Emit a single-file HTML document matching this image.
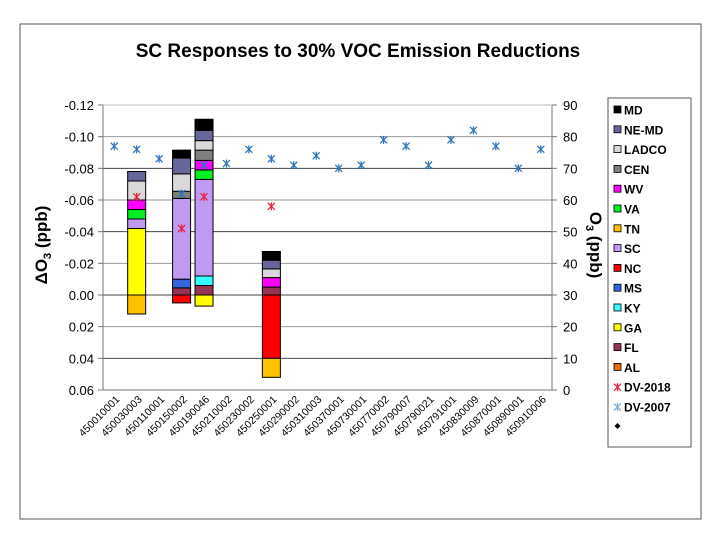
<!DOCTYPE html>
<html><head><meta charset="utf-8"><style>
body{margin:0;background:#fff;font-family:"Liberation Sans",sans-serif}
svg text{font-family:"Liberation Sans",sans-serif}
</style></head><body>
<svg id="c" width="720" height="540" xmlns="http://www.w3.org/2000/svg">
<rect x="20" y="24" width="681" height="495" fill="#fff" stroke="#555" stroke-width="1"/>
<text x="358" y="57" text-anchor="middle" font-size="19" font-weight="bold">SC Responses to 30% VOC Emission Reductions</text>
<g id="grid"></g><g id="bars"></g><g id="axes"></g><g id="pts"></g><g id="legend"></g>
<text transform="translate(47,245) rotate(-90)" text-anchor="middle" font-size="17" font-weight="bold">ΔO<tspan font-size="11" dy="4">3</tspan><tspan dy="-4"> (ppb)</tspan></text>
<text transform="translate(590,245) rotate(90)" text-anchor="middle" font-size="17" font-weight="bold">O<tspan font-size="11" dy="4">3</tspan><tspan dy="-4"> (ppb)</tspan></text>
</svg>
<script>
const categories=["450010001","450030003","450110001","450150002","450190046","450210002","450230002","450250001","450290002","450310003","450370001","450730001","450770002","450790007","450790021","450791001","450830009","450870001","450890001","450910006"];
const seriesNames=["AL","FL","GA","KY","MS","NC","SC","TN","VA","WV","CEN","LADCO","NE-MD","MD"];
const seriesColors=["#E46C0A","#953553","#FFFF00","#33FFFF","#3366DD","#FF0000","#C099F0","#FFC000","#00EE22","#FF00FF","#7F7F7F","#D9D9D9","#66669A","#000000"];
const AL=[0,0,0,0,0,0,0,0,0,0,0,0,0,0,0,0,0,0,0,0];
const FL=[0,0,0,-0.0045,-0.006,0,0,-0.005,0,0,0,0,0,0,0,0,0,0,0,0];
const GA=[0,-0.042,0,0,0.007,0,0,0,0,0,0,0,0,0,0,0,0,0,0,0];
const KY=[0,0,0,0,-0.006,0,0,0,0,0,0,0,0,0,0,0,0,0,0,0];
const MS=[0,0,0,-0.0055,0,0,0,0,0,0,0,0,0,0,0,0,0,0,0,0];
const NC=[0,0,0,0.005,0,0,0,0.040,0,0,0,0,0,0,0,0,0,0,0,0];
const SC=[0,-0.006,0,-0.051,-0.061,0,0,0,0,0,0,0,0,0,0,0,0,0,0,0];
const TN=[0,0.012,0,0,0,0,0,0.012,0,0,0,0,0,0,0,0,0,0,0,0];
const VA=[0,-0.006,0,0,-0.006,0,0,0,0,0,0,0,0,0,0,0,0,0,0,0];
const WV=[0,-0.006,0,0,-0.006,0,0,-0.006,0,0,0,0,0,0,0,0,0,0,0,0];
const CEN=[0,0,0,-0.0045,-0.0065,0,0,0,0,0,0,0,0,0,0,0,0,0,0,0];
const LADCO=[0,-0.012,0,-0.011,-0.006,0,0,-0.0055,0,0,0,0,0,0,0,0,0,0,0,0];
const NEMD=[0,-0.006,0,-0.010,-0.0065,0,0,-0.0055,0,0,0,0,0,0,0,0,0,0,0,0];
const MD=[0,0,0,-0.005,-0.007,0,0,-0.0055,0,0,0,0,0,0,0,0,0,0,0,0];
const DV2018=[null,61,null,51,61,null,null,58,null,null,null,null,null,null,null,null,null,null,null,null];
const DV2007=[77,76,73,62,71,71.5,76,73,71,74,70,71,79,77,71,79,82,77,70,76];
const leftTicks=["-0.12","-0.10","-0.08","-0.06","-0.04","-0.02","0.00","0.02","0.04","0.06"];
const rightTicks=["90","80","70","60","50","40","30","20","10","0"];
const series=[AL,FL,GA,KY,MS,NC,SC,TN,VA,WV,CEN,LADCO,NEMD,MD];
const X0=103,X1=552,T=105,B=390;
const yL=v=>T+(v-(-0.12))/(0.18)*(B-T);
const yR=v=>B-v/90*(B-T);
const bw=(X1-X0)/categories.length;
const xC=i=>X0+bw*(i+0.5);
const NS="http://www.w3.org/2000/svg";
function mk(p,tag,at,txt){const e=document.createElementNS(NS,tag);for(const k in at)e.setAttribute(k,at[k]);if(txt!=null)e.textContent=txt;document.getElementById(p).appendChild(e);return e;}
leftTicks.forEach((t,i)=>{const y=yL(parseFloat(t));
 if(i>0&&i<leftTicks.length-1){const g=mk('grid','line',{x1:X0,x2:X1,y1:y,y2:y,stroke:i%2?'#999':'#444','stroke-width':1});
 
 }
 const l=mk('axes','line',{x1:X0-5,x2:X0,y1:y,y2:y,stroke:'#777'});
 
 
 const tx=mk('axes','text',{x:X0-9,y:y+5,'text-anchor':'end','font-size':13},t);
 
 });
rightTicks.forEach(t=>{const y=yR(+t);
 const l=mk('axes','line',{x1:X1,x2:X1+5,y1:y,y2:y,stroke:'#777'});
 
 
 const tx=mk('axes','text',{x:X1+11,y:y+5,'font-size':13},t);
 
 });
[[X0,T,X0,B],[X1,T,X1,B],[X0,B,X1,B],[X0,T,X1,T]].forEach((a,k)=>{const l=mk('axes','line',{x1:a[0],y1:a[1],x2:a[2],y2:a[3],stroke:k==3?'#bbb':'#777'});
 
 });
categories.forEach((c,i)=>{const x=xC(i);
 const t=mk('axes','text',{transform:`translate(${x+6},${B+10}) rotate(-45)`,'text-anchor':'end','font-size':10.5},c);
 
 });
categories.forEach((c,i)=>{let neg=0,pos=0;const x=xC(i)-9;
 series.forEach((s,k)=>{const v=s[i];if(!v)return;let a,b;
  if(v<0){a=neg;neg+=v;b=neg;}else{a=pos;pos+=v;b=pos;}
  const y1=yL(Math.min(a,b)),y2=yL(Math.max(a,b));
  const r=mk('bars','rect',{x:x,y:y1,width:18,height:y2-y1,fill:seriesColors[k],stroke:'#000','stroke-width':1});
  
  });});
function star(p,x,y,col,name){const g=mk(p,'g',{stroke:col,'stroke-width':1.3});
 
 
 [[-3.5,-3.5,3.5,3.5],[-3.5,3.5,3.5,-3.5],[0,-4,0,4]].forEach(a=>{const l=document.createElementNS(NS,'line');l.setAttribute('x1',x+a[0]);l.setAttribute('y1',y+a[1]);l.setAttribute('x2',x+a[2]);l.setAttribute('y2',y+a[3]);g.appendChild(l);});}
DV2007.forEach((v,i)=>{if(v!=null)star('pts',xC(i),yR(v),'#2E75B6','dv-2007-point');});
DV2018.forEach((v,i)=>{if(v!=null)star('pts',xC(i),yR(v),'#E8203A','dv-2018-point');});
const lb=mk('legend','rect',{x:608,y:98,width:83,height:349,fill:'#fff',stroke:'#555'});


const entries=seriesNames.map((n,k)=>[n,seriesColors[k]]).reverse();
entries.forEach((e,j)=>{const y=110+j*19.8;
 const r=mk('legend','rect',{x:614,y:y-4,width:7,height:7,fill:e[1],stroke:'#000','stroke-width':0.8});
 
 
 const t=mk('legend','text',{x:624,y:y+4.5,'font-size':12,'font-weight':'bold'},e[0]);
 
 });
[['DV-2018','#E8203A'],['DV-2007','#7FB0D8']].forEach((e,k)=>{const y=110+(14+k)*19.8;
 star('legend',617.5,y,e[1],'legend-marker');
 const t=mk('legend','text',{x:624,y:y+4.5,'font-size':12,'font-weight':'bold'},e[0]);
 
 });
const d=mk('legend','path',{d:'M617.5 423 l3 3 l-3 3 l-3 -3z',fill:'#000'});


</script>
</body></html>
